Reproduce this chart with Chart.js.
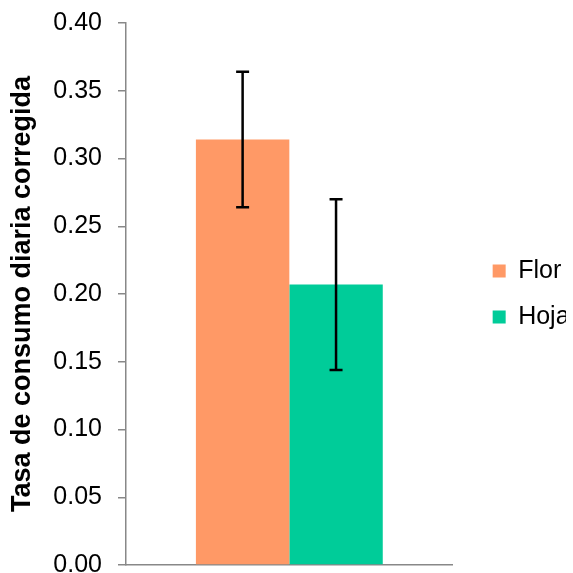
<!DOCTYPE html>
<html>
<head>
<meta charset="utf-8">
<script src="https://cdn.jsdelivr.net/npm/chart.js@4/dist/chart.umd.min.js"></script>
<style>
  html, body { margin: 0; padding: 0; background: #fff; }
  #wrap { width: 573px; height: 573px; position: relative; }
</style>
</head>
<body>
<div id="wrap"><canvas id="grafica"></canvas></div>
<script>
// datos
var categorias = [''];
var series = ['Flor', 'Hoja'];
var medias = [0.314, 0.207];
var errores = [0.050, 0.063];
var colores = ['#FF9966', '#00CC99'];
var ticksY = [0, 0.05, 0.10, 0.15, 0.20, 0.25, 0.30, 0.35, 0.40];

var fuente = "'Liberation Sans', Arial, sans-serif";

// barras de error dibujadas sobre las barras
var barrasError = {
    id: 'barrasError',
    afterDatasetsDraw: function(chart){
        var ctx = chart.ctx;
        var y = chart.scales.y;
        ctx.save();
        ctx.strokeStyle = '#000';
        ctx.lineWidth = 2.5;
        chart.data.datasets.forEach(function(ds, i){
            var meta = chart.getDatasetMeta(i);
            meta.data.forEach(function(bar, j){
                var v = ds.data[j];
                var e = ds.error[j];
                var x = bar.x;
                var yTop = y.getPixelForValue(v + e);
                var yBot = y.getPixelForValue(v - e);
                ctx.beginPath();
                ctx.moveTo(x, yTop); ctx.lineTo(x, yBot);
                ctx.moveTo(x - 6.5, yTop); ctx.lineTo(x + 6.5, yTop);
                ctx.moveTo(x - 6.5, yBot); ctx.lineTo(x + 6.5, yBot);
                ctx.stroke();
            });
        });
        ctx.restore();
    }
};

var datasets = series.map(function(nombre, i){
    return {
        label: nombre,
        data: [medias[i]],
        error: [errores[i]],
        backgroundColor: colores[i],
        borderWidth: 0,
        categoryPercentage: 0.572,
        barPercentage: 1.0
    };
});

var ctx = document.getElementById('grafica').getContext('2d');
var chart = new Chart(ctx, {
    type: 'bar',
    data: { labels: categorias, datasets: datasets },
    options: {
        responsive: true,
        maintainAspectRatio: false,
        animation: false,
        layout: { padding: { left: 0, right: 7, top: 23, bottom: 8 } },
        plugins: {
            tooltip: { enabled: false },
            legend: {
                position: 'right',
                labels: {
                    boxWidth: 13,
                    boxHeight: 13,
                    padding: 21,
                    color: '#000',
                    font: { family: fuente, size: 25 }
                }
            }
        },
        scales: {
            x: {
                grid: { display: true, drawOnChartArea: false, drawTicks: false },
                border: { color: '#888', width: 1.5 },
                ticks: { display: false },
                afterFit: function(s){ s.height = 0; s.paddingLeft = 0; s.paddingRight = 0; }
            },
            y: {
                min: 0,
                max: 0.4,
                afterBuildTicks: function(s){ s.ticks = ticksY.map(function(v){ return {value: v}; }); },
                afterFit: function(s){ s.width = 126; s.paddingTop = 0; s.paddingBottom = 0; },
                grid: { display: true, drawOnChartArea: false, tickLength: 8, color: '#888', lineWidth: 1.5 },
                border: { color: '#888', width: 1.5 },
                ticks: {
                    padding: 16,
                    color: '#000',
                    font: { family: fuente, size: 25 },
                    callback: function(v){ return Number(v).toFixed(2); }
                },
                title: {
                    display: true,
                    text: 'Tasa de consumo diaria corregida',
                    color: '#000',
                    padding: { top: 6, bottom: 10 },
                    font: { family: fuente, size: 27, weight: 'bold' }
                }
            },
            hueco: {
                type: 'linear',
                position: 'right',
                display: true,
                grid: { display: false },
                border: { display: false },
                ticks: { display: false },
                afterFit: function(s){ s.width = 19; }
            }
        }
    },
    plugins: [barrasError]
});
</script>
</body>
</html>
